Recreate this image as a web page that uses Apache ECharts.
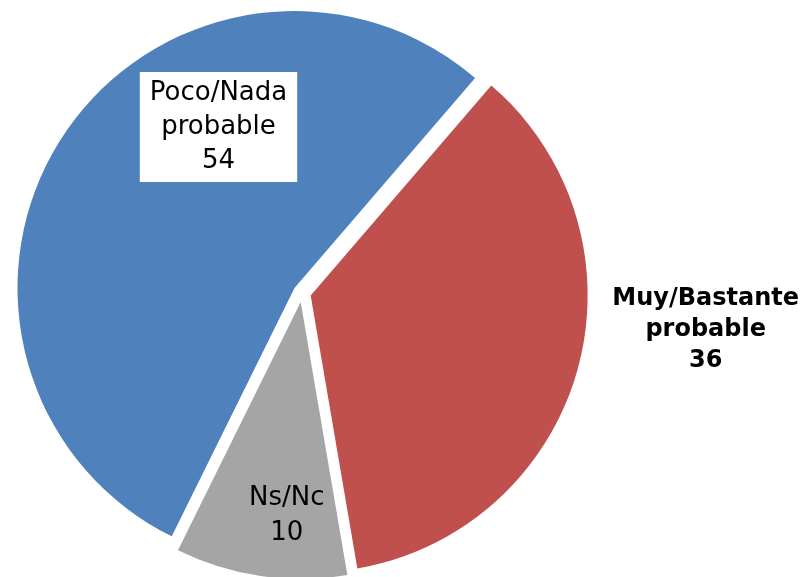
<!DOCTYPE html>
<html>
<head>
<meta charset="utf-8">
<script src="https://cdn.jsdelivr.net/npm/echarts@6/dist/echarts.min.js"></script>
<style>
  html, body { margin: 0; padding: 0; background: #fff; }
  #chart { width: 800px; height: 577px; }
</style>
</head>
<body>
<div id="chart"></div>
<script>
// categories and values, in drawing order (clockwise from the top-right)
const categories = ['Muy/Bastante\nprobable', 'Ns/Nc', 'Poco/Nada\nprobable']
const values = [36, 10, 54]
const colors = ['#C0504D', '#A5A5A5', '#4F81BD']

// wanted centre of each label block
const labelPos = [
  { x: 697, y: 327 },
  { x: 288, y: 507 },
  { x: 226, y: 132 }
]

const labelStyles = [
  { fontWeight: 'bold', fontSize: 24, lineHeight: 31 },
  { fontSize: 26, lineHeight: 35 },
  { fontSize: 26, lineHeight: 34, backgroundColor: '#fff', padding: [4, 10] }
]

const chart = echarts.init(document.getElementById('chart'))

chart.setOption({
  animation: false,
  series: [{
    type: 'pie',
    center: [302, 293],
    radius: 277,
    startAngle: 49.3,
    clockwise: true,
    selectedMode: 'multiple',
    selectedOffset: 9,
    data: categories.map((name, i) => ({
      name,
      value: values[i],
      selected: true,
      itemStyle: { color: colors[i] },
      label: labelStyles[i]
    })),
    label: {
      show: true,
      position: 'inside',
      formatter: p => p.name + '\n' + p.value,
      fontFamily: 'DejaVu Sans',
      color: '#000',
      align: 'center',
      verticalAlign: 'middle'
    },
    labelLine: { show: false },
    // shift each label from its default spot to where it sits in the picture
    labelLayout: p => {
      const r = p.labelRect
      return {
        dx: labelPos[p.dataIndex].x - (r.x + r.width / 2),
        dy: labelPos[p.dataIndex].y - (r.y + r.height / 2),
        hideOverlap: false
      }
    },
    emphasis: { disabled: true }
  }]
})
</script>
</body>
</html>
